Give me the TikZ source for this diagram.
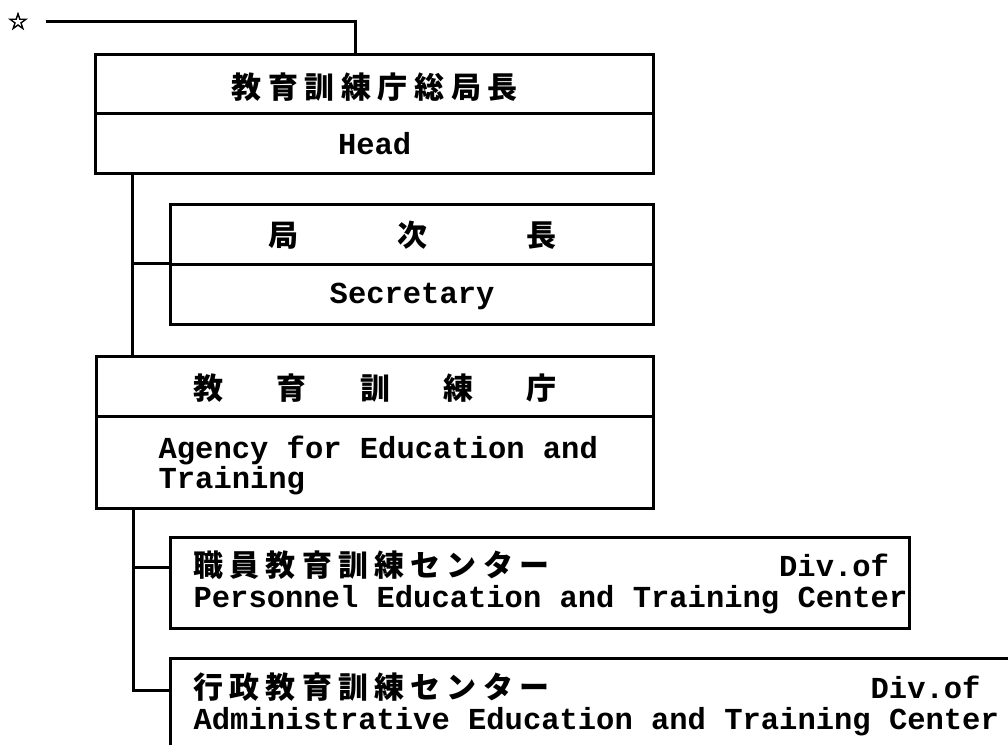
\documentclass[tikz,border=0pt]{standalone}
\usepackage{fontspec}
\newfontfamily\jp{Noto Sans CJK JP}
\newfontfamily\lat{Liberation Mono}
\newfontfamily\starfont[FakeBold=3]{DejaVu Sans}
\makeatletter
\newcommand\spc[2]{\@tfor\zz:=#2\do{\zz\kern#1}\kern-#1\relax}
\makeatother
\newcommand\J[1]{{\jp\bfseries\fontsize{30}{30}\selectfont #1}}
\newcommand\Lt{\lat\bfseries\fontsize{30.5}{30}\selectfont}
\begin{document}
\begin{tikzpicture}[x=1pt,y=-1pt,
  cell/.style={draw, line width=3.2pt, anchor=north west, inner sep=0pt, minimum width=#1},
  link/.style={line width=3pt}]
\clip (0,0) rectangle (1008,744);
\fill[white] (0,0) rectangle (1008,744);
% star
\node[inner xsep=17pt, inner ysep=0pt] (st) at (18,21) {\starfont\fontsize{23}{23}\selectfont ☆};
% boxes
\node[cell=558pt, text height=43.4pt, text depth=15.6pt] (b1t) at (94,53) {\J{\spc{6.6pt}{教育訓練庁総局長}}};
\node[cell=558pt, text height=40.5pt, text depth=19.5pt] (b1b) at (94,112) {\Lt Head};
\node[cell=483pt, text height=41.4pt, text depth=18.6pt] (b2t) at (169,203) {\J{\spc{99pt}{局次長}}};
\node[cell=483pt, text height=39pt, text depth=21pt] (b2b) at (169,263) {\Lt Secretary};
\node[cell=557pt, text height=42.4pt, text depth=17.6pt] (b3t) at (95,355) {\J{\spc{53.3pt}{教育訓練庁}}};
\node[cell=557pt, text height=42pt, text depth=50pt] (b3b) at (95,415)
  {\parbox[t]{557pt}{\Lt\hspace*{62pt}Agency for Education and\\\hspace*{62pt}Training}};
\node[cell=739pt, text height=38.4pt, text depth=52.6pt] (b4) at (169,536)
  {\parbox[t]{739pt}{\Lt\baselineskip=31.5pt\hspace*{23pt}\J{\spc{6.2pt}{職員教育訓練センター}}\hfill Div.of\hspace*{20.6pt}\\\hspace*{23pt}Personnel Education and Training Center}};
\node[cell=860pt, text height=39.4pt, text depth=110pt] (b5) at (169,657)
  {\parbox[t]{860pt}{\Lt\baselineskip=31.5pt\hspace*{23pt}\J{\spc{6.2pt}{行政教育訓練センター}}\hfill Div.of\hspace*{50.1pt}\\\hspace*{23pt}Administrative Education and Training Center}};
% connectors
\coordinate (k0) at (355,53);
\draw[link] (st.east) -| (k0);
\coordinate (v1) at (132,172);
\draw[link] (v1) -- (v1 |- b3t.north);
\draw[link] (v1 |- b2b.north west) -- (b2b.north west);
\coordinate (v2) at (133,507);
\coordinate (j4) at (133,567);
\coordinate (j5) at (133,690);
\draw[link] (v2) -- (j5) -- (j5 -| b5.west);
\draw[link] (j4) -- (j4 -| b4.west);
\end{tikzpicture}
\end{document}
